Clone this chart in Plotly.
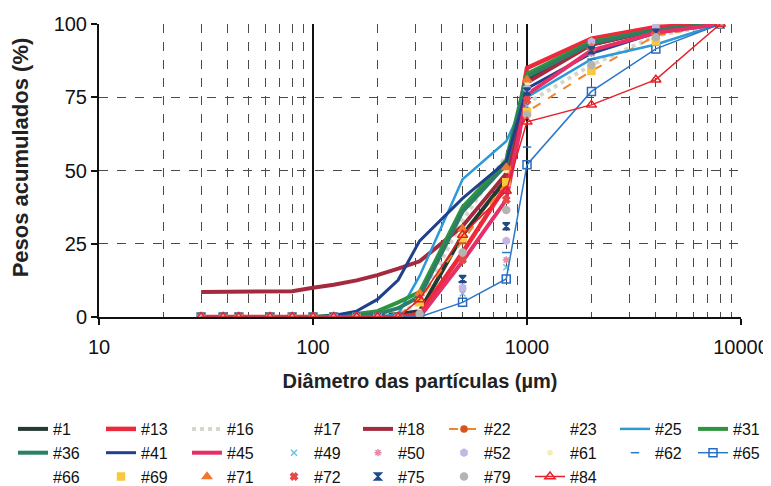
import plotly.graph_objects as go

# particle diameters (µm)
sizes = [30, 38, 45, 63, 80, 100, 125, 160, 200, 250, 315, 500, 800, 1000, 2000, 4000, 8000]

# cumulative weights (%) per sample
s1  = [0, 0, 0, 0, 0, 0, 0, 0, 0.5, 1, 2, 28, 47, 81, 93, 98, 100]
s13 = [0, 0, 0, 0, 0, 0, 0, 0, 0, 0, 1, 22, 45, 85, 95, 99, 100]
s16 = [0, 0, 0, 0, 0, 0, 0, 0, 0.5, 1, 5, 33, 55, 73, 86, 96, 100]
s17 = [0, 0, 0, 0, 0, 0, 0, 0, 0, 0.5, 3, 27, 48, 78, 92, 97, 100]
s18 = [8.5, 8.5, 8.5, 8.5, 8.8, 10, 11, 12.5, 14.3, 16.5, 19, 31, 49, 80, 93, 98, 100]
s22 = [0, 0, 0, 0, 0, 0, 0, 0, 0, 0.5, 6, 26, 46, 70, 84, 96, 100]
s23 = [0, 0, 0, 0, 0, 0, 0, 0, 0, 0.5, 4, 26, 47, 75, 90, 97, 100]
s25 = [0, 0, 0, 0, 0, 0, 0, 0, 0, 1, 14, 47, 60, 75, 88, 93, 100]
s31 = [0, 0, 0, 0, 0, 0, 0.5, 1, 2, 5, 8.5, 37.5, 53.5, 83, 94, 98, 100]
s36 = [0, 0, 0, 0, 0, 0, 0, 0.5, 1, 3, 7, 36, 52, 82, 93.5, 98, 100]
s41 = [0, 0, 0, 0, 0, 0, 0.5, 2, 6, 12.6, 26, 40.5, 53, 78, 90, 97, 100]
s45 = [0, 0, 0, 0, 0, 0, 0, 0, 0, 0, 0, 19, 40, 76, 91, 97, 100]
s49 = [0, 0, 0, 0, 0, 0, 0, 0, 0, 0, 0.5, 8, 17, 72, 90, 97, 100]
s50 = [0, 0, 0, 0, 0, 0, 0, 0, 0, 0, 0.5, 9.5, 19.5, 70, 90, 97, 100]
s52 = [0, 0, 0, 0, 0, 0, 0, 0, 0, 0, 0.5, 10, 26, 78, 94, 99, 100]
s61 = [0, 0, 0, 0, 0, 0, 0, 0, 0, 0, 2, 28, 50, 80, 92, 97, 100]
s62 = [0, 0, 0, 0, 0, 0, 0, 0, 0, 0, 0.5, 12, 22, 58, 88, 95, 100]
s65 = [0, 0, 0, 0, 0, 0, 0, 0, 0, 0, 0, 5, 13, 52, 77, 91.5, 100]
s66 = [0, 0, 0, 0, 0, 0, 0, 0, 0, 0, 1, 25, 46, 74, 88, 96, 100]
s69 = [0, 0, 0, 0, 0, 0, 0, 0, 0, 0, 5, 27, 46, 70, 84, 94, 100]
s71 = [0, 0, 0, 0, 0, 0, 0, 0, 0, 0, 8, 30, 51, 81, 92, 97, 100]
s72 = [0, 0, 0, 0, 0, 0, 0, 0, 0, 0, 1, 19.5, 40, 74, 91, 97, 100]
s75 = [0, 0, 0, 0, 0, 0, 0, 0, 0, 0, 0.5, 13, 31, 77, 91, 97, 100]
s79 = [0, 0, 0, 0, 0, 0, 0, 0, 0, 0, 1, 22, 36.5, 69, 86, 95.5, 100]
s84 = [0, 0, 0, 0, 0, 0, 0, 0, 0, 0, 6, 28, 43, 66.6, 72.4, 81, 100]

names = ["#1", "#13", "#16", "#17", "#18", "#22", "#23", "#25", "#31", "#36", "#41", "#45",
         "#49", "#50", "#52", "#61", "#62", "#65", "#66", "#69", "#71", "#72", "#75", "#79", "#84"]
series = [s1, s13, s16, s17, s18, s22, s23, s25, s31, s36, s41, s45,
          s49, s50, s52, s61, s62, s65, s66, s69, s71, s72, s75, s79, s84]

x_title = "Diâmetro das partículas (µm)"
y_title = "Pesos acumulados (%)"

# styles: (mode, line color, line width, dash, marker symbol, marker color, marker size)
styles = {
    "#1":  ("lines", "#233a2f", 4, "solid", None, None, 0),
    "#13": ("lines", "#ec2a3c", 4.5, "solid", None, None, 0),
    "#16": ("lines", "#d6d6cc", 4, "dot", None, None, 0),
    "#17": ("lines", "rgba(255,255,255,0)", 1, "solid", None, None, 0),
    "#18": ("lines", "#a42a40", 4, "solid", None, None, 0),
    "#22": ("lines+markers", "#f2852a", 2, "dash", "circle", "#d9531e", 6),
    "#23": ("lines", "rgba(255,255,255,0)", 1, "solid", None, None, 0),
    "#25": ("lines", "#2b9ad6", 2.5, "solid", None, None, 0),
    "#31": ("lines", "#2f9440", 4, "solid", None, None, 0),
    "#36": ("lines", "#2c7f64", 4, "solid", None, None, 0),
    "#41": ("lines", "#1f3f8f", 3, "solid", None, None, 0),
    "#45": ("lines", "#e52f66", 4, "solid", None, None, 0),
    "#49": ("markers", None, 0, None, "x-thin", "#6ec2e0", 6),
    "#50": ("markers", None, 0, None, "asterisk", "#e88aa8", 6),
    "#52": ("markers", None, 0, None, "hexagon", "#c4b6e4", 7),
    "#61": ("markers", None, 0, None, "circle", "#f6eeb0", 4),
    "#62": ("markers", None, 0, None, "line-ew", "#2a7ac8", 6),
    "#65": ("lines+markers", "#2a78c8", 1.5, "solid", "square-open", "#2a6ac0", 8),
    "#66": ("markers", None, 0, None, "circle", "rgba(255,255,255,0)", 4),
    "#69": ("markers", None, 0, None, "square", "#f8c840", 7),
    "#71": ("markers", None, 0, None, "triangle-up", "#f07830", 8),
    "#72": ("markers", None, 0, None, "x", "#e84848", 6),
    "#75": ("markers", None, 0, None, "hourglass", "#1f4a8a", 7),
    "#79": ("markers", None, 0, None, "circle", "#b4b4b0", 7),
    "#84": ("lines+markers", "#e8202a", 1.5, "solid", "triangle-up-open", "#e8202a", 9),
}

# The page body has an 8px margin, so the figure is drawn 8px smaller
W, H = 763, 478
n_cols = 9
col_left = [5, 93, 179, 266, 350, 436, 522, 607, 685]   # legend column left edges (px)

def legend_id(col):
    return "legend" if col == 0 else f"legend{col + 1}"

fig = go.Figure()
for i, (name, vals) in enumerate(zip(names, series)):
    mode, lc, lw, dash, sym, mc, ms = styles[name]
    kw = dict(x=sizes, y=vals, name=name, mode=mode, legendrank=i + 1,
              legend=legend_id(i % n_cols))
    if "lines" in mode:
        kw["line"] = dict(color=lc, width=lw, dash=dash)
    if "markers" in mode:
        kw["marker"] = dict(symbol=sym, color=mc, size=ms,
                            line=dict(color=mc, width=1.5))
    fig.add_trace(go.Scatter(**kw))

font_family = "Liberation Sans, Arial, sans-serif"
grid_c = "#4a4a4a"

legends = {}
for c in range(n_cols):
    legends[legend_id(c)] = dict(
        orientation="v", xref="container", yref="container",
        x=col_left[c] / W, xanchor="left", y=1 - 404 / H, yanchor="top",
        font=dict(size=16, color="#111"), itemwidth=30, tracegroupgap=0,
        bgcolor="rgba(0,0,0,0)", traceorder="normal")

fig.update_layout(
    width=W, height=H,
    margin=dict(l=91, r=30, t=16, b=169, autoexpand=False),
    paper_bgcolor="white", plot_bgcolor="white",
    font=dict(family=font_family, color="#111"),
    showlegend=True,
    **legends,
    xaxis=dict(type="log", range=[1, 4], dtick=1, tickvals=[10, 100, 1000, 10000],
               ticktext=["10", "100", "1000", "10000"],
               showgrid=True, gridcolor="#111", gridwidth=2,
               minor=dict(dtick="D1", showgrid=True, gridcolor=grid_c, griddash="dash", gridwidth=1),
               showline=True, linecolor="#111", linewidth=2,
               ticks="outside", ticklen=6, tickcolor="#111", tickwidth=2,
               ticklabelstandoff=5, automargin=False,
               tickfont=dict(size=20, color="#111"),
               title=dict(text=f"<b>{x_title}</b>", font=dict(size=20, color="#222"), standoff=17),
               zeroline=False),
    yaxis=dict(range=[0, 100], tickvals=[0, 25, 50, 75, 100],
               showgrid=True, gridcolor=grid_c, griddash="dash", gridwidth=1,
               showline=True, linecolor="#111", linewidth=2,
               ticks="outside", ticklen=6, tickcolor="#111", tickwidth=2,
               automargin=False,
               tickfont=dict(size=20, color="#111"),
               zeroline=False),
    annotations=[dict(text=f"<b>{y_title}</b>", textangle=-90, showarrow=False,
                      xref="paper", yref="paper", x=-0.123, y=0.545,
                      xanchor="center", yanchor="middle",
                      font=dict(size=22, color="#222", family=font_family))],
)

fig.write_html("out.html")
